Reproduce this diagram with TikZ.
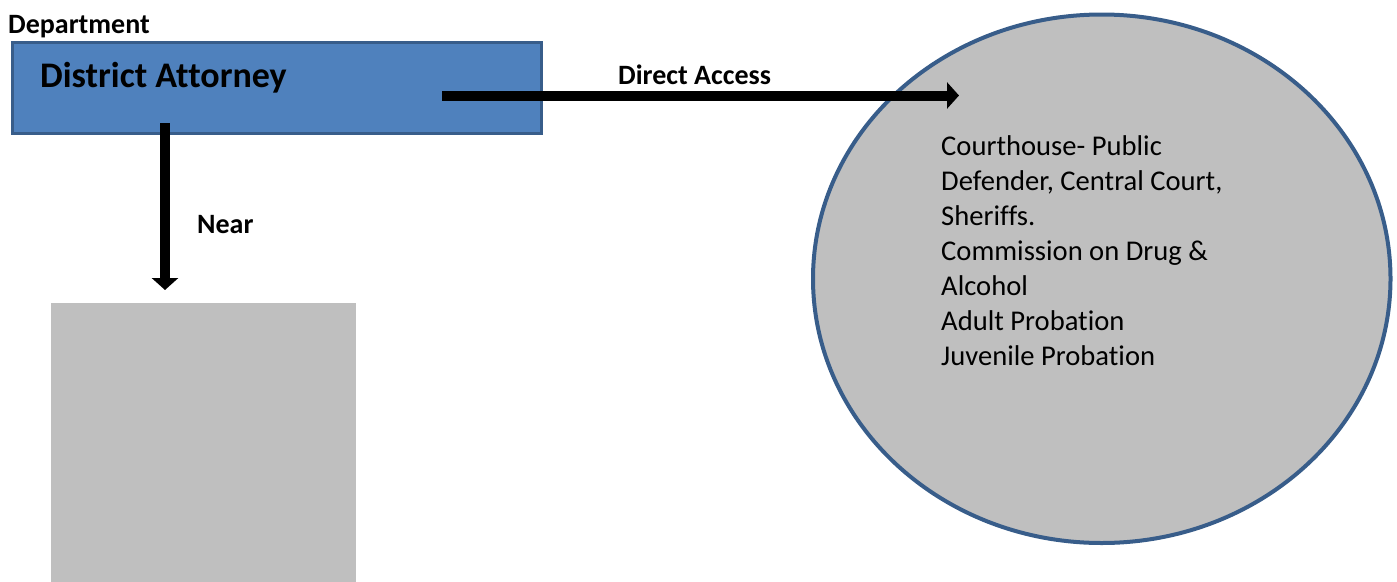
\documentclass[tikz,border=0pt]{standalone}
\usepackage{fontspec}
\setmainfont{Carlito}[Ligatures={NoCommon}]
\usetikzlibrary{arrows.meta,shapes.geometric}
\definecolor{dablue}{HTML}{4F81BD}
\definecolor{edgeblue}{HTML}{385D8A}
\definecolor{lightgray}{HTML}{BFBFBF}
\tikzset{
  label text/.style={inner sep=0pt, anchor=base west, font=\bfseries\fontsize{28}{34}\selectfont},
  fat arrow/.style={line width=10pt, -{Triangle[width=26pt,length=12pt]}},
}
\begin{document}
\begin{tikzpicture}[x=1pt,y=-1pt]
\useasboundingbox (0,0) rectangle (1397,581);
% gray box
\node[rectangle, fill=lightgray, inner sep=0pt, minimum width=305pt, minimum height=285pt] (box) at (203.5,445.5) {};
% district attorney box
\node[rectangle, fill=dablue, draw=edgeblue, line width=3pt, inner sep=0pt, minimum width=529.5pt, minimum height=91.5pt] (da) at (276.9,88) {};
% ellipse
\node[ellipse, fill=lightgray, draw=edgeblue, line width=4pt, inner sep=0pt, minimum width=577.5pt, minimum height=528.5pt] (court) at (1101.75,278.75) {};
% texts
\node[label text] (dept) at (8,33) {Department};
\node[label text, font=\bfseries\fontsize{36}{42}\selectfont] (daname) at (40,87) {District Attorney};
\node[label text] (direct) at (618,84) {Direct Access};
\node[label text] (near) at (197,233) {Near};
\node[inner sep=0pt, anchor=base west, align=left, font=\fontsize{28.6}{35}\selectfont] (list) at (941,365)
 {Courthouse- Public\\Defender, Central Court,\\Sheriffs.\\Commission on Drug \&\\Alcohol\\Adult Probation\\Juvenile Probation};
% connectors
\coordinate (daS) at (165,123);
\coordinate (boxN) at (165,290);
\coordinate (daE) at (442,95.5);
\coordinate (courtW) at (959,95.5);
\draw[fat arrow] (daS) -- (boxN);
\draw[fat arrow] (daE) -- (courtW);
\end{tikzpicture}
\end{document}
